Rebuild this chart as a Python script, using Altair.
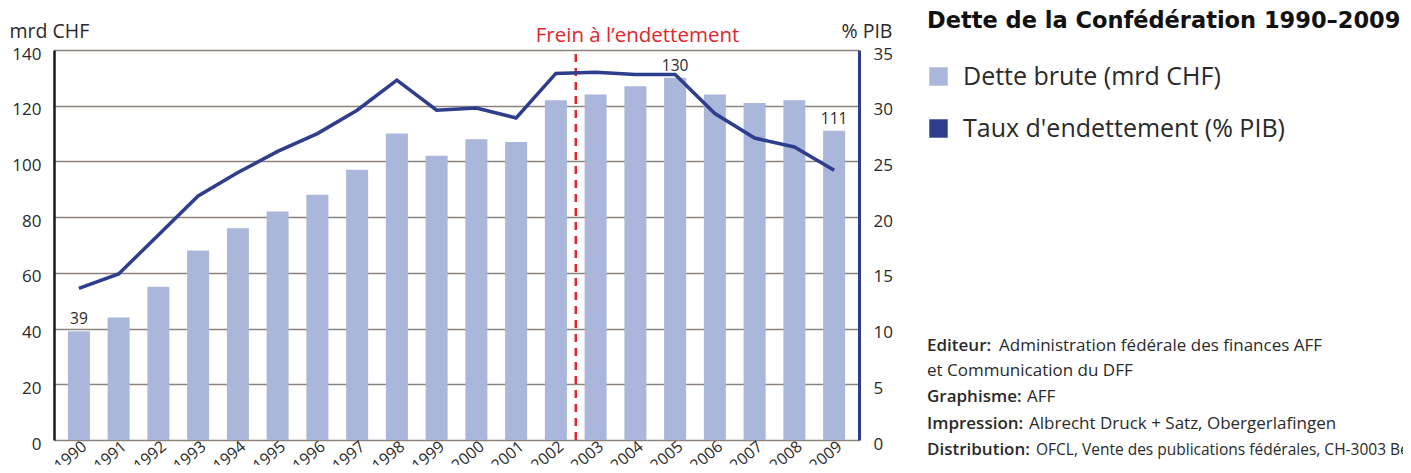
import altair as alt
import pandas as pd

# ---- data ----
years = list(range(1990, 2010))
debt = [39, 44, 55, 68, 76, 82, 88, 97, 110, 102, 108, 107, 122, 124, 127, 130, 124, 121, 122, 111]
ratio = [13.6, 14.9, 18.4, 21.9, 24.0, 25.9, 27.5, 29.6, 32.3, 29.6, 29.8, 28.9, 32.9, 33.0, 32.8, 32.8, 29.3, 27.1, 26.3, 24.2]
labelled_years = [1990, 2005, 2009]
brake_year = [2002.5]
brake_label = "Frein à l’endettement"
series_names = ["Dette brute (mrd CHF)", "Taux d'endettement (% PIB)"]
series_colors = ["#aab6da", "#2e3d8c"]
left_ticks = list(range(0, 141, 20))
right_ticks = list(range(0, 36, 5))
title_text = "Dette de la Confédération 1990–2009"
notes = [
    ("Editeur:", "Administration fédérale des finances AFF"),
    ("", "et Communication du DFF"),
    ("Graphisme:", "AFF"),
    ("Impression:", "Albrecht Druck + Satz, Obergerlafingen"),
    ("Distribution:", "OFCL, Vente des publications fédérales, CH-3003 Berne"),
]

df = pd.DataFrame({"year": years, "debt": debt, "ratio": ratio})
df["series"] = series_names[0]
df["label"] = [str(d) if y in labelled_years else "" for y, d in zip(years, debt)]
brake_df = pd.DataFrame({"x": brake_year, "y0": [0], "y1": [140], "t": [brake_label]})

W, H = 805, 390
FONT = "Open Sans"
NAVY = series_colors[1]
RED = "#e3262b"
TXT = "#2a2a2a"

xscale = alt.Scale(domain=[1989.5, 2009.5], nice=False, zero=False)
xaxis = alt.Axis(values=years, format="d", labelAngle=-40, labelAlign="right",
                 labelBaseline="top", labelFontSize=16, labelColor=TXT, domain=False,
                 ticks=False, grid=False, title=None, labelPadding=-2, labelOffset=0)
yl_scale = alt.Scale(domain=[0, 140], nice=False)
yl_axis = alt.Axis(values=left_ticks, grid=True, gridColor="#8c837c", gridWidth=1.5,
                   domainColor="#1a1a1a", domainWidth=2.5, ticks=False, labelPadding=13,
                   labelFontSize=17, labelColor=TXT, labelOffset=4,
                   title="mrd CHF", titleAngle=0, titleAlign="left", titleBaseline="alphabetic",
                   titleX=-45, titleY=-13, titleFontSize=19.5, titleFontWeight="normal",
                   titleColor=TXT)

base = alt.Chart(df)

bars = base.mark_bar(size=22).encode(
    x=alt.X("year:Q", scale=xscale, axis=xaxis),
    y=alt.Y("debt:Q", scale=yl_scale, axis=yl_axis),
    color=alt.Color("series:N",
                    scale=alt.Scale(domain=series_names, range=series_colors),
                    legend=alt.Legend(title=None, orient="none", legendX=872, legendY=14,
                                      symbolType="square", symbolSize=340, symbolStrokeWidth=0,
                                      labelFontSize=25, labelColor=TXT, labelFont=FONT,
                                      labelOffset=12, rowPadding=26, padding=0,
                                      labelLimit=500)),
)

bar_labels = base.transform_filter("datum.label != ''").mark_text(
    baseline="bottom", dy=-4, fontSize=15.5, color=TXT, font=FONT
).encode(x="year:Q", y="debt:Q", text="label:N")

rule = alt.Chart(brake_df).mark_rule(color=RED, strokeWidth=2.5, strokeDash=[8, 6]).encode(
    x="x:Q", y="y0:Q", y2="y1:Q")
rule_text = alt.Chart(brake_df).mark_text(
    color=RED, fontSize=20.5, align="left", baseline="alphabetic", dx=-40, dy=-8, font=FONT
).encode(x="x:Q", y="y1:Q", text="t:N")


def note(text, x, y, size, weight="normal", font=FONT, color=TXT):
    return alt.Chart(pd.DataFrame({"t": [text]})).mark_text(
        align="left", baseline="alphabetic", fontSize=size, fontWeight=weight,
        font=font, color=color
    ).encode(text="t:N", x=alt.value(x), y=alt.value(y))


texts = [note(title_text, 873, -22, 22.5, "bold", font="DejaVu Sans", color="#111")]
ys = [301, 326, 352, 379, 405]
offs = [945, 873, 973, 975, 982]
sizes = [17, 17, 17, 17, 15.5]
for (b, r), yy, xo, sz in zip(notes, ys, offs, sizes):
    if b:
        texts.append(note(b, 873, yy, 17, 600))
    texts.append(note(r, xo, yy, sz, "normal"))

left = alt.layer(bars, bar_labels, rule, rule_text, *texts)

line = base.mark_line(color=NAVY, strokeWidth=3.5).encode(
    x="year:Q",
    y=alt.Y("ratio:Q", scale=alt.Scale(domain=[0, 35], nice=False),
            axis=alt.Axis(orient="right", values=right_ticks, grid=False, domainColor=NAVY,
                          domainWidth=3, ticks=False, labelPadding=14, labelFontSize=17,
                          labelColor=TXT, labelOffset=4, title="% PIB", titleAngle=0,
                          titleAlign="left", titleBaseline="alphabetic", titleX=-18,
                          titleY=-13, titleFontSize=19.5, titleFontWeight="normal",
                          titleColor=TXT)),
)

chart = alt.layer(left, line).resolve_scale(y="independent").properties(
    width=W, height=H,
    autosize=alt.AutoSizeParams(type="none"),
    padding={"left": 46, "top": 42, "right": 544, "bottom": 25},
).configure(font=FONT).configure_view(stroke=None)

chart.save("out.html", embed_options={"renderer": "svg", "actions": False})
